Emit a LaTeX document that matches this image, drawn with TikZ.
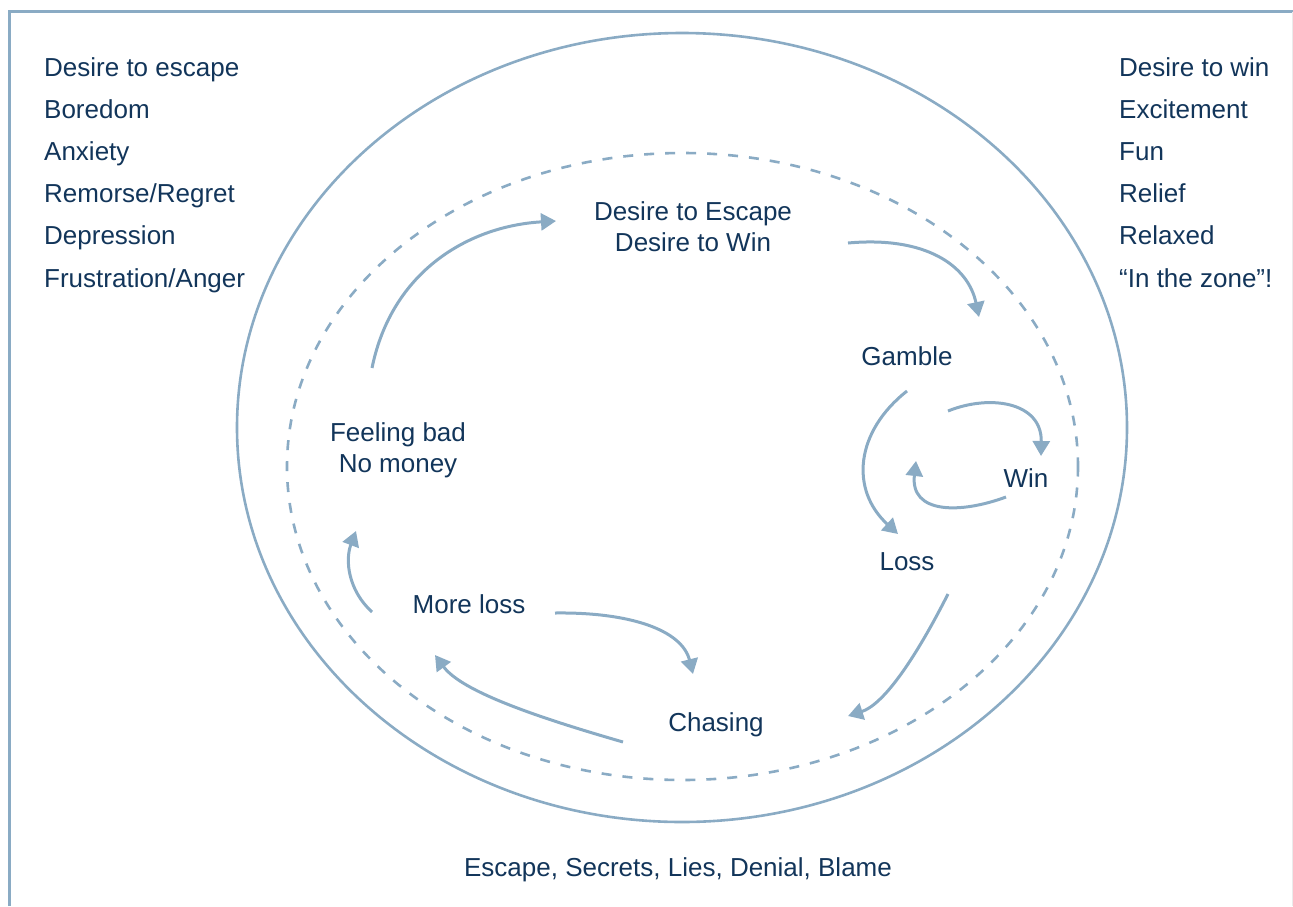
\documentclass[tikz,border=0pt]{standalone}
\usepackage{fontspec}
\setmainfont{Liberation Sans}
\usetikzlibrary{arrows.meta}
\definecolor{txt}{HTML}{12355A}
\definecolor{ln}{HTML}{8AABC4}
\tikzset{
  lbl/.style={text=txt, font=\fontsize{26}{31}\selectfont, inner sep=0pt},
  conn/.style={draw=ln, line width=3pt, -{Triangle[length=15pt,width=17pt]}},
  ring/.style={draw=ln, line width=2.6pt},
  dring/.style={draw=ln, line width=2.6pt, dash pattern=on 10pt off 11pt},
}
\begin{document}
\begin{tikzpicture}[x=1pt,y=-1pt]
\useasboundingbox (0,0) rectangle (1293,906);
% frame
\draw[draw=ln, line width=3pt] (9.5,906) -- (9.5,11.5) -- (1293,11.5);
\draw[draw=black!8, line width=1pt] (1292.5,11.5) -- (1292.5,906);
% ellipses
\draw[ring] (682,427.5) ellipse [x radius=445, y radius=394.5];
\draw[dring] (682.5,466.5) ellipse [x radius=395.5, y radius=313.5];
% left list
\foreach \t [count=\i] in {Desire to escape,Boredom,Anxiety,Remorse/Regret,Depression,Frustration/Anger}
  \node[lbl, anchor=base west] (L\i) at (44,{76+42.2*(\i-1)}) {\t};
% right list
\foreach \t [count=\i] in {Desire to win,Excitement,Fun,Relief,Relaxed,“In the zone”!}
  \node[lbl, anchor=base west] (R\i) at (1119,{76+42.2*(\i-1)}) {\t};
% cycle labels
\node[lbl, anchor=base] (esc1) at (693,220) {Desire to Escape};
\node[lbl, anchor=base] (esc2) at (693,251) {Desire to Win};
\node[lbl, anchor=base] (gam) at (907,365) {Gamble};
\node[lbl, anchor=base] (win) at (1026,487) {Win};
\node[lbl, anchor=base] (los) at (907,570) {Loss};
\node[lbl, anchor=base] (cha) at (716,731) {Chasing};
\node[lbl, anchor=base] (mor) at (469,613) {More loss};
\node[lbl, anchor=base] (fb1) at (398,441) {Feeling bad};
\node[lbl, anchor=base] (fb2) at (398,472) {No money};
\node[lbl, anchor=base] (bot) at (678,876) {Escape, Secrets, Lies, Denial, Blame};
% arrow end points
\coordinate (a1s) at (372,368); \coordinate (a1e) at (556,221);
\coordinate (a2s) at (848,243); \coordinate (a2e) at (979,317);
\coordinate (a3s) at (907,391); \coordinate (a3e) at (898,534);
\coordinate (a4s) at (948,411); \coordinate (a4e) at (1041,456);
\coordinate (a5s) at (1006,497); \coordinate (a5e) at (916,461);
\coordinate (a6s) at (948,594); \coordinate (a6e) at (848,716);
\coordinate (a7s) at (555,613); \coordinate (a7e) at (693,674);
\coordinate (a8s) at (623,742); \coordinate (a8e) at (435,655);
\coordinate (a9s) at (372,612); \coordinate (a9e) at (356,531);
% arrows
\draw[conn] (a1s) .. controls (392,270) and (470,226) .. (a1e);
\draw[conn] (a2s) .. controls (925,236) and (968,265) .. (a2e);
\draw[conn] (a3s) .. controls (855,432) and (850,490) .. (a3e);
\draw[conn] (a4s) .. controls (990,394) and (1042,402) .. (a4e);
\draw[conn] (a5s) .. controls (960,514) and (910,514) .. (a5e);
\draw[conn] (a6s) .. controls (912,665) and (882,705) .. (a6e);
\draw[conn] (a7s) .. controls (630,612) and (682,630) .. (a7e);
\draw[conn] (a8s) .. controls (540,718) and (462,692) .. (a8e);
\draw[conn] (a9s) .. controls (348,590) and (345,560) .. (a9e);
\end{tikzpicture}
\end{document}
